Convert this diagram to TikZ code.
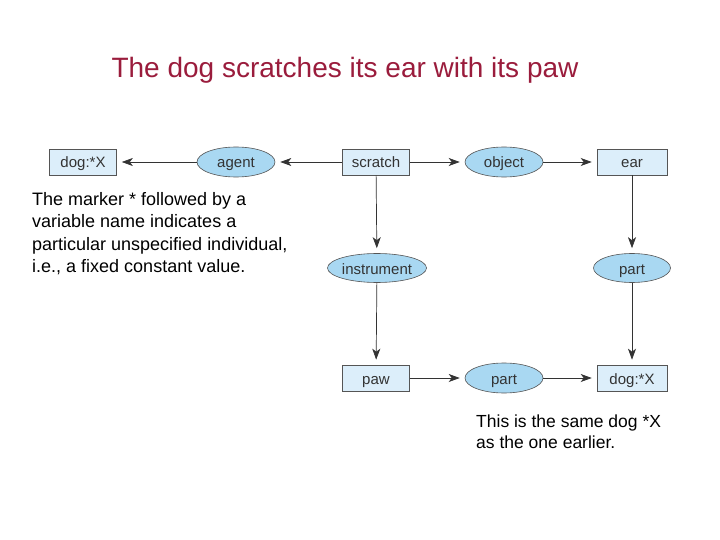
\documentclass[tikz,border=0pt]{standalone}
\usepackage{fontspec}
\setmainfont{Liberation Sans}
\usetikzlibrary{shapes.geometric,arrows.meta}
\definecolor{titlered}{HTML}{9A1C3C}
\definecolor{boxfill}{HTML}{DCEEFA}
\definecolor{ellfill}{HTML}{A9D8F2}
\definecolor{edgegray}{HTML}{555555}
\definecolor{txtgray}{HTML}{333333}
\tikzset{
  cbox/.style={draw=edgegray, line width=0.6pt, fill=boxfill, minimum width=67pt, minimum height=26pt, inner sep=0pt, font=\fontsize{15}{17}\selectfont, text=txtgray, text height=13pt, text depth=1pt},
  cell/.style={ellipse, draw=edgegray, line width=0.6pt, fill=ellfill, minimum width=78pt, minimum height=30pt, inner sep=0pt, font=\fontsize{15}{17}\selectfont, text=txtgray, text height=13pt, text depth=1pt},
  conn/.style={-{Stealth[length=11pt,width=8pt,inset=3pt]}, shorten >=5pt, line width=0.7pt, draw=black!80},
  note/.style={align=left, anchor=north west, inner sep=0pt, font=\fontsize{18}{22.5}\selectfont}
}
\begin{document}
\begin{tikzpicture}[x=1pt,y=-1pt]
\useasboundingbox (0,0) rectangle (720,540);
\node[text=titlered, font=\fontsize{28}{32}\selectfont] (title) at (345,70) {The dog scratches its ear with its paw};
\node[cbox] (dog1) at (83,162) {dog:*X};
\node[cell] (agent) at (236,162) {agent};
\node[cbox] (scratch) at (376,162) {scratch};
\node[cell] (object) at (504,162) {object};
\node[cbox, minimum width=70pt] (ear) at (632,162) {ear};
\node[cell, minimum width=91pt, minimum height=29pt] (instr) at (377,268) {instrument};
\node[cell, minimum width=77pt, minimum height=29pt] (part1) at (632,268) {part};
\node[cbox] (paw) at (376,378) {paw};
\node[cell] (part2) at (504,378) {part};
\node[cbox, minimum width=70pt] (dog2) at (632,378) {dog:*X};
\draw[conn] (scratch) -- (agent);
\draw[conn] (agent) -- (dog1);
\draw[conn] (scratch) -- (object);
\draw[conn] (object) -- (ear);
\draw[conn] (scratch) -- (instr);
\draw[conn] (instr) -- (paw);
\draw[conn] (ear) -- (part1);
\draw[conn] (part1) -- (dog2);
\draw[conn] (paw) -- (part2);
\draw[conn] (part2) -- (dog2);
\node[note] (n1) at (32,192) {The marker * followed by a\\variable name indicates a\\particular unspecified individual,\\i.e., a fixed constant value.};
\node[note, font=\fontsize{17.5}{21}\selectfont] (n2) at (476,415) {This is the same dog *X\\as the one earlier.};
\end{tikzpicture}
\end{document}
